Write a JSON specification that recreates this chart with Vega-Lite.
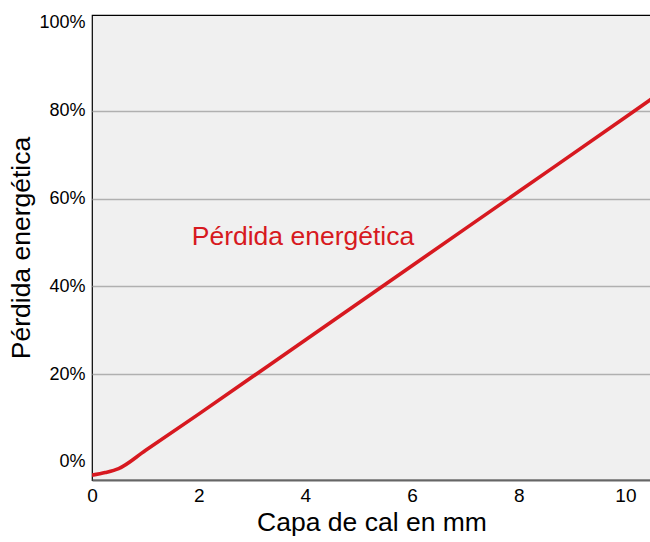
{
  "$schema": "https://vega.github.io/schema/vega-lite/v6.json",
  "width": 559,
  "height": 465,
  "autosize": {"type": "none"},
  "padding": {"left": 92, "top": 15, "right": 0, "bottom": 62},
  "background": "#ffffff",
  "config": {
    "view": {"fill": "#f0f0f0", "stroke": "#000000", "strokeWidth": 1.2},
    "font": "Liberation Sans"
  },
  "datasets": {
    "curve": [
      {"mm": 0, "loss": -3.0},
      {"mm": 0.25, "loss": -2.4},
      {"mm": 0.5, "loss": -1.5},
      {"mm": 1, "loss": 2.6},
      {"mm": 2, "loss": 10.9},
      {"mm": 4, "loss": 27.8},
      {"mm": 6, "loss": 44.7},
      {"mm": 8, "loss": 61.6},
      {"mm": 10, "loss": 78.5},
      {"mm": 10.48, "loss": 82.6}
    ],
    "labels": [
      {"mm": 1.87, "loss": 51.2, "text": "Pérdida energética"}
    ]
  },
  "layer": [
    {
      "data": {"name": "curve"},
      "mark": {"type": "line", "color": "#d71920", "strokeWidth": 3.6, "interpolate": "monotone", "clip": true},
      "encoding": {
        "x": {
          "field": "mm", "type": "quantitative",
          "scale": {"domain": [0, 10.48], "nice": false, "zero": false},
          "axis": {
            "title": "Capa de cal en mm",
            "titleFont": "Liberation Sans", "titleFontSize": 26.5, "titleFontWeight": "normal", "titleColor": "#000",
            "titlePadding": 4,
            "values": [0, 2, 4, 6, 8, 10],
            "labelFont": "Liberation Sans", "labelFontSize": 19, "labelColor": "#000",
            "labelPadding": 6, "labelFlush": false, "labelOverlap": false,
            "ticks": false, "grid": false,
            "domainColor": "#666666", "domainWidth": 2
          }
        },
        "y": {
          "field": "loss", "type": "quantitative",
          "scale": {"domain": [-4.1, 101.8], "nice": false, "zero": false},
          "axis": {
            "title": "Pérdida energética",
            "titleFont": "Liberation Sans", "titleFontSize": 26.5, "titleFontWeight": "normal", "titleColor": "#000",
            "titlePadding": 3,
            "values": [0, 20, 40, 60, 80, 100],
            "labelExpr": "datum.value + '%'",
            "labelFont": "Liberation Sans", "labelFontSize": 18, "labelColor": "#000",
            "labelPadding": 7, "labelFlush": false, "labelOverlap": false,
            "ticks": false,
            "grid": true, "gridColor": "#b0b0b0", "gridWidth": 1.5,
            "gridOpacity": {"condition": {"test": "datum.value == 0 || datum.value == 100", "value": 0}, "value": 1},
            "domain": false
          }
        }
      }
    },
    {
      "data": {"name": "labels"},
      "mark": {"type": "text", "align": "left", "baseline": "middle", "color": "#d71920", "fontSize": 26.5, "font": "Liberation Sans"},
      "encoding": {
        "x": {"field": "mm", "type": "quantitative"},
        "y": {"field": "loss", "type": "quantitative"},
        "text": {"field": "text"}
      }
    }
  ]
}
